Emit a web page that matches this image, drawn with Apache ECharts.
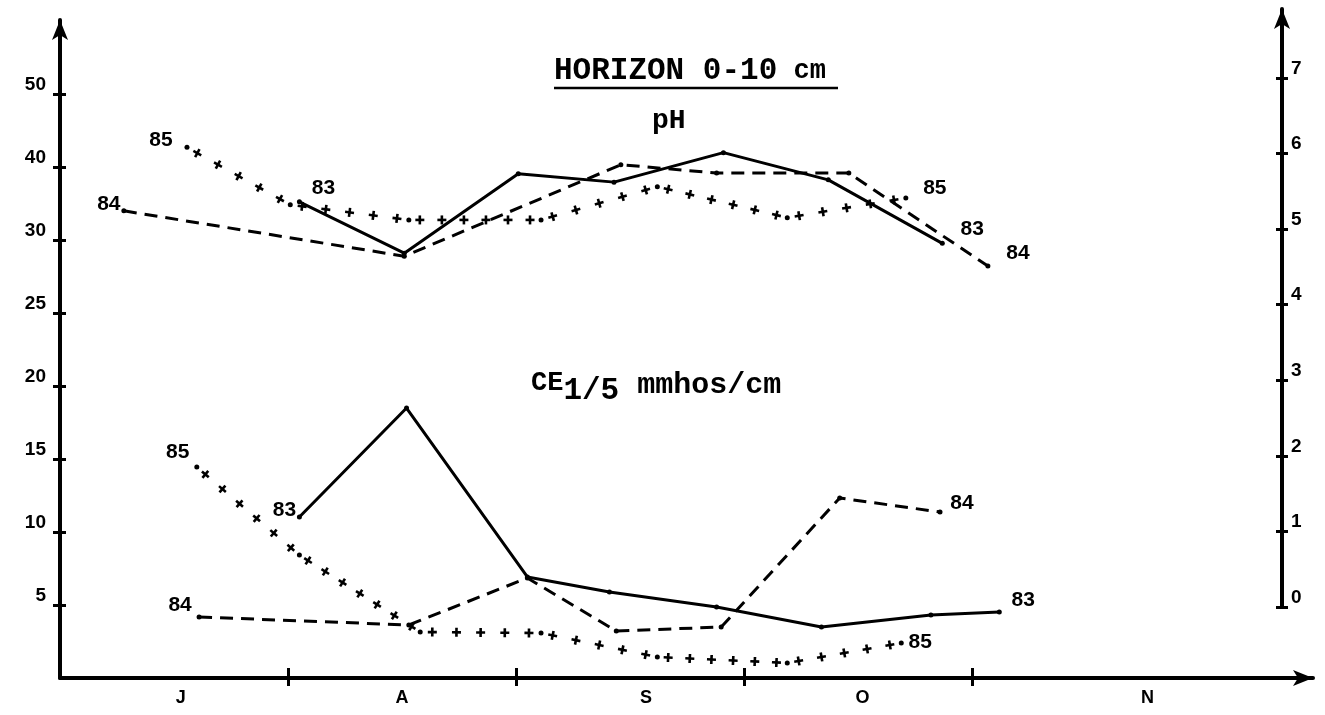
<!DOCTYPE html>
<html>
<head>
<meta charset="utf-8">
<script src="https://cdn.jsdelivr.net/npm/echarts@6/dist/echarts.min.js"></script>
<style>
html,body{margin:0;padding:0;background:#fff;}
#chart{width:1325px;height:715px;}
</style>
</head>
<body>
<div id="chart"></div>
<script>
// ---- Axis tick labels ----
const monthLabels = ['J', 'A', 'S', 'O', 'N'];
const monthLabelPos = [0.53, 1.5, 2.57, 3.52, 4.77];   // month position on the time axis (month units)
const monthTicks = [1, 2, 3, 4];
const leftTickValues = [5, 10, 15, 20, 25, 30, 35, 40];
const leftTickLabels = ['5', '10', '15', '20', '25', '30', '40', '50'];
const rightTickValues = [0, 1, 2, 3, 4, 5, 6, 7];

// ---- pH series (right axis) ----
const ph83X = [1.05, 1.51, 2.01, 2.43, 2.91, 3.37, 3.87];
const ph83  = [5.36, 4.68, 5.73, 5.62, 6.01, 5.65, 4.81];
const ph84X = [0.28, 1.51, 2.46, 2.88, 3.46, 4.07];
const ph84  = [5.24, 4.64, 5.85, 5.74, 5.74, 4.51];
const ph85X = [0.557, 1.01, 1.53, 2.11, 2.62, 3.19, 3.71];
const ph85  = [6.08, 5.32, 5.12, 5.12, 5.56, 5.15, 5.41];

// ---- CE 1/5 series (left axis, mmhos/cm) ----
const ce83X = [1.05, 1.52, 2.05, 2.41, 2.88, 3.34, 3.82, 4.12];
const ce83  = [11.03, 18.49, 6.92, 5.89, 4.86, 3.49, 4.32, 4.52];
const ce84X = [0.61, 1.53, 2.05, 2.44, 2.90, 3.42, 3.86];
const ce84  = [4.18, 3.63, 6.85, 3.22, 3.49, 12.33, 11.37];
const ce85X = [0.60, 1.05, 1.58, 2.11, 2.62, 3.19, 3.69];
const ce85  = [14.45, 8.42, 3.15, 3.08, 1.44, 1.03, 2.40];

const BLACK = '#000';
const numFont = {fontFamily: 'Liberation Sans', fontWeight: 'bold', fontSize: 19, color: BLACK, textBorderWidth: 0, opacity: 1};

function pts(xs, ys) { return xs.map((x, i) => [x, ys[i]]); }
function segs(xs, ys) {
  const out = [];
  for (let i = 0; i < xs.length - 1; i++) out.push([xs[i], ys[i], xs[i + 1], ys[i + 1], i === xs.length - 2 ? 1 : 0]);
  return out;
}

function crossRender(params, api) {
  const p1 = api.coord([api.value(0), api.value(1)]);
  const p2 = api.coord([api.value(2), api.value(3)]);
  const isLast = api.value(4) === 1;
  const dx = p2[0] - p1[0], dy = p2[1] - p1[1];
  const len = Math.hypot(dx, dy);
  const ux = dx / len, uy = dy / len, vx = -uy, vy = ux;
  const n = Math.max(1, Math.round(len / 22));
  const a = 4.5;
  const st = {stroke: BLACK, lineWidth: 2.6};
  const children = [];
  for (let k = 0; k < n; k++) {
    const t = (k + 0.5) / n;
    const cx = p1[0] + dx * t, cy = p1[1] + dy * t;
    children.push({type: 'line', shape: {x1: cx - ux * a, y1: cy - uy * a, x2: cx + ux * a, y2: cy + uy * a}, style: st});
    children.push({type: 'line', shape: {x1: cx - vx * a, y1: cy - vy * a, x2: cx + vx * a, y2: cy + vy * a}, style: st});
  }
  children.push({type: 'circle', shape: {cx: p1[0], cy: p1[1], r: 2.5}, style: {fill: BLACK}});
  if (isLast) children.push({type: 'circle', shape: {cx: p2[0], cy: p2[1], r: 2.5}, style: {fill: BLACK}});
  return {type: 'group', children};
}

function lineSeries(name, xs, ys, dashed, xi, yi) {
  return {
    name, type: 'line', xAxisIndex: xi, yAxisIndex: yi,
    data: pts(xs, ys), symbol: 'circle', symbolSize: 5,
    itemStyle: {color: BLACK},
    lineStyle: {color: BLACK, width: 3, type: dashed ? [13, 8] : 'solid'},
    silent: true, animation: false, z: 3
  };
}
function crossSeries(name, xs, ys, xi, yi) {
  return {
    name, type: 'custom', xAxisIndex: xi, yAxisIndex: yi,
    data: segs(xs, ys), encode: {x: [0, 2], y: [1, 3]},
    renderItem: crossRender, silent: true, animation: false, z: 3
  };
}
// year labels at line ends: [xs, ys, text, index, offset]
function labelSeries(items, xi, yi) {
  return {
    type: 'scatter', xAxisIndex: xi, yAxisIndex: yi, symbolSize: 0, silent: true, animation: false,
    itemStyle: {color: BLACK},
    data: items.map(it => ({
      value: [it[0][it[3]], it[1][it[3]]],
      label: {show: true, position: 'inside', offset: it[4], formatter: it[2], ...numFont, fontSize: 21}
    }))
  };
}

const chart = echarts.init(document.getElementById('chart'), null, {renderer: 'canvas'});
const axisLineStyle = {color: BLACK, width: 4};

chart.setOption({
  backgroundColor: '#fff',
  animation: false,
  title: [
    {text: '{a|HORIZON 0-10}{b| cm}', left: 554, top: 56, padding: 0,
     textStyle: {rich: {
       a: {fontFamily: 'Liberation Mono', fontWeight: 'bold', fontSize: 31, color: BLACK},
       b: {fontFamily: 'Liberation Mono', fontWeight: 'bold', fontSize: 27, color: BLACK}}}},
    {text: 'pH', left: 652, top: 107, padding: 0,
     textStyle: {fontFamily: 'Liberation Mono', fontWeight: 'bold', fontSize: 28, color: BLACK}},
    {text: '{c|CE}{s|1/5}{m| mmhos/cm}', left: 531, top: 370, padding: 0,
     textStyle: {rich: {
       c: {fontFamily: 'Liberation Mono', fontWeight: 'bold', fontSize: 27, color: BLACK, verticalAlign: 'top', lineHeight: 30},
       s: {fontFamily: 'Liberation Mono', fontWeight: 'bold', fontSize: 31, color: BLACK, padding: [12, 0, 0, 0], lineHeight: 30},
       m: {fontFamily: 'Liberation Mono', fontWeight: 'bold', fontSize: 30, color: BLACK, verticalAlign: 'top', lineHeight: 30}}}}
  ],
  graphic: [
    {type: 'line', shape: {x1: 554, y1: 88, x2: 838, y2: 88}, style: {stroke: BLACK, lineWidth: 2.5}}
  ],
  grid: [
    {left: 60, right: 12, top: 20, bottom: 37},
    {left: 60, right: 43, top: 9, bottom: 108}
  ],
  xAxis: [
    {gridIndex: 0, type: 'value', min: 0, max: 5.496, position: 'bottom',
     axisLine: {onZero: false, lineStyle: axisLineStyle, symbol: ['none', 'arrow'], symbolSize: [12, 20]},
     axisTick: {customValues: monthTicks, length: 8, lineStyle: {color: BLACK, width: 3}},
     axisLabel: {customValues: monthLabelPos, margin: 11, ...numFont, fontSize: 18,
       formatter: v => { let b = 0; monthLabelPos.forEach((p, i) => { if (Math.abs(p - v) < Math.abs(monthLabelPos[b] - v)) b = i; }); return monthLabels[b]; }},
     splitLine: {show: false}},
    {gridIndex: 0, type: 'value', min: 0, max: 5.496, position: 'bottom',
     axisLine: {show: false, onZero: false},
     axisTick: {customValues: monthTicks, inside: true, length: 10, lineStyle: {color: BLACK, width: 3}},
     axisLabel: {show: false}, splitLine: {show: false}},
    {gridIndex: 1, type: 'value', min: 0, max: 5.36, show: false, axisLine: {onZero: false}}
  ],
  yAxis: [
    {gridIndex: 0, type: 'value', min: 0, max: 45.07, position: 'left',
     axisLine: {onZero: false, lineStyle: axisLineStyle, symbol: ['none', 'arrow'], symbolSize: [12, 20]},
     axisTick: {customValues: leftTickValues, length: 7, lineStyle: {color: BLACK, width: 3}},
     axisLabel: {customValues: leftTickValues, margin: 14, verticalAlign: 'bottom', ...numFont,
       formatter: v => leftTickLabels[leftTickValues.indexOf(Math.round(v))]},
     splitLine: {show: false}},
    {gridIndex: 0, type: 'value', min: 0, max: 45.07, position: 'left',
     axisLine: {show: false, onZero: false},
     axisTick: {customValues: leftTickValues, inside: true, length: 6, lineStyle: {color: BLACK, width: 3}},
     axisLabel: {show: false}, splitLine: {show: false}},
    {gridIndex: 1, type: 'value', min: 0, max: 7.91, position: 'right',
     axisLine: {onZero: false, lineStyle: axisLineStyle, symbol: ['none', 'arrow'], symbolSize: [12, 20]},
     axisTick: {customValues: rightTickValues, length: 6, lineStyle: {color: BLACK, width: 3}},
     axisLabel: {customValues: rightTickValues, margin: 9, verticalAlign: 'bottom', ...numFont,
       formatter: v => String(Math.round(v))},
     splitLine: {show: false}},
    {gridIndex: 1, type: 'value', min: 0, max: 7.91, position: 'right',
     axisLine: {show: false, onZero: false},
     axisTick: {customValues: rightTickValues, inside: true, length: 6, lineStyle: {color: BLACK, width: 3}},
     axisLabel: {show: false}, splitLine: {show: false}}
  ],
  series: [
    lineSeries('pH 83', ph83X, ph83, false, 2, 2),
    lineSeries('pH 84', ph84X, ph84, true, 2, 2),
    crossSeries('pH 85', ph85X, ph85, 2, 2),
    lineSeries('CE 83', ce83X, ce83, false, 0, 0),
    lineSeries('CE 84', ce84X, ce84, true, 0, 0),
    crossSeries('CE 85', ce85X, ce85, 0, 0),
    labelSeries([
      [ph85X, ph85, '85', 0, [-26, -7]],
      [ph83X, ph83, '83', 0, [24, -14]],
      [ph84X, ph84, '84', 0, [-15, -7]],
      [ph85X, ph85, '85', ph85X.length - 1, [29, -10]],
      [ph83X, ph83, '83', ph83X.length - 1, [30, -14]],
      [ph84X, ph84, '84', ph84X.length - 1, [30, -13]]
    ], 2, 2),
    labelSeries([
      [ce85X, ce85, '85', 0, [-19, -15]],
      [ce83X, ce83, '83', 0, [-15, -7]],
      [ce84X, ce84, '84', 0, [-19, -12]],
      [ce84X, ce84, '84', ce84X.length - 1, [22, -9]],
      [ce83X, ce83, '83', ce83X.length - 1, [24, -12]],
      [ce85X, ce85, '85', ce85X.length - 1, [19, -1]]
    ], 0, 0)
  ]
});
</script>
</body>
</html>
